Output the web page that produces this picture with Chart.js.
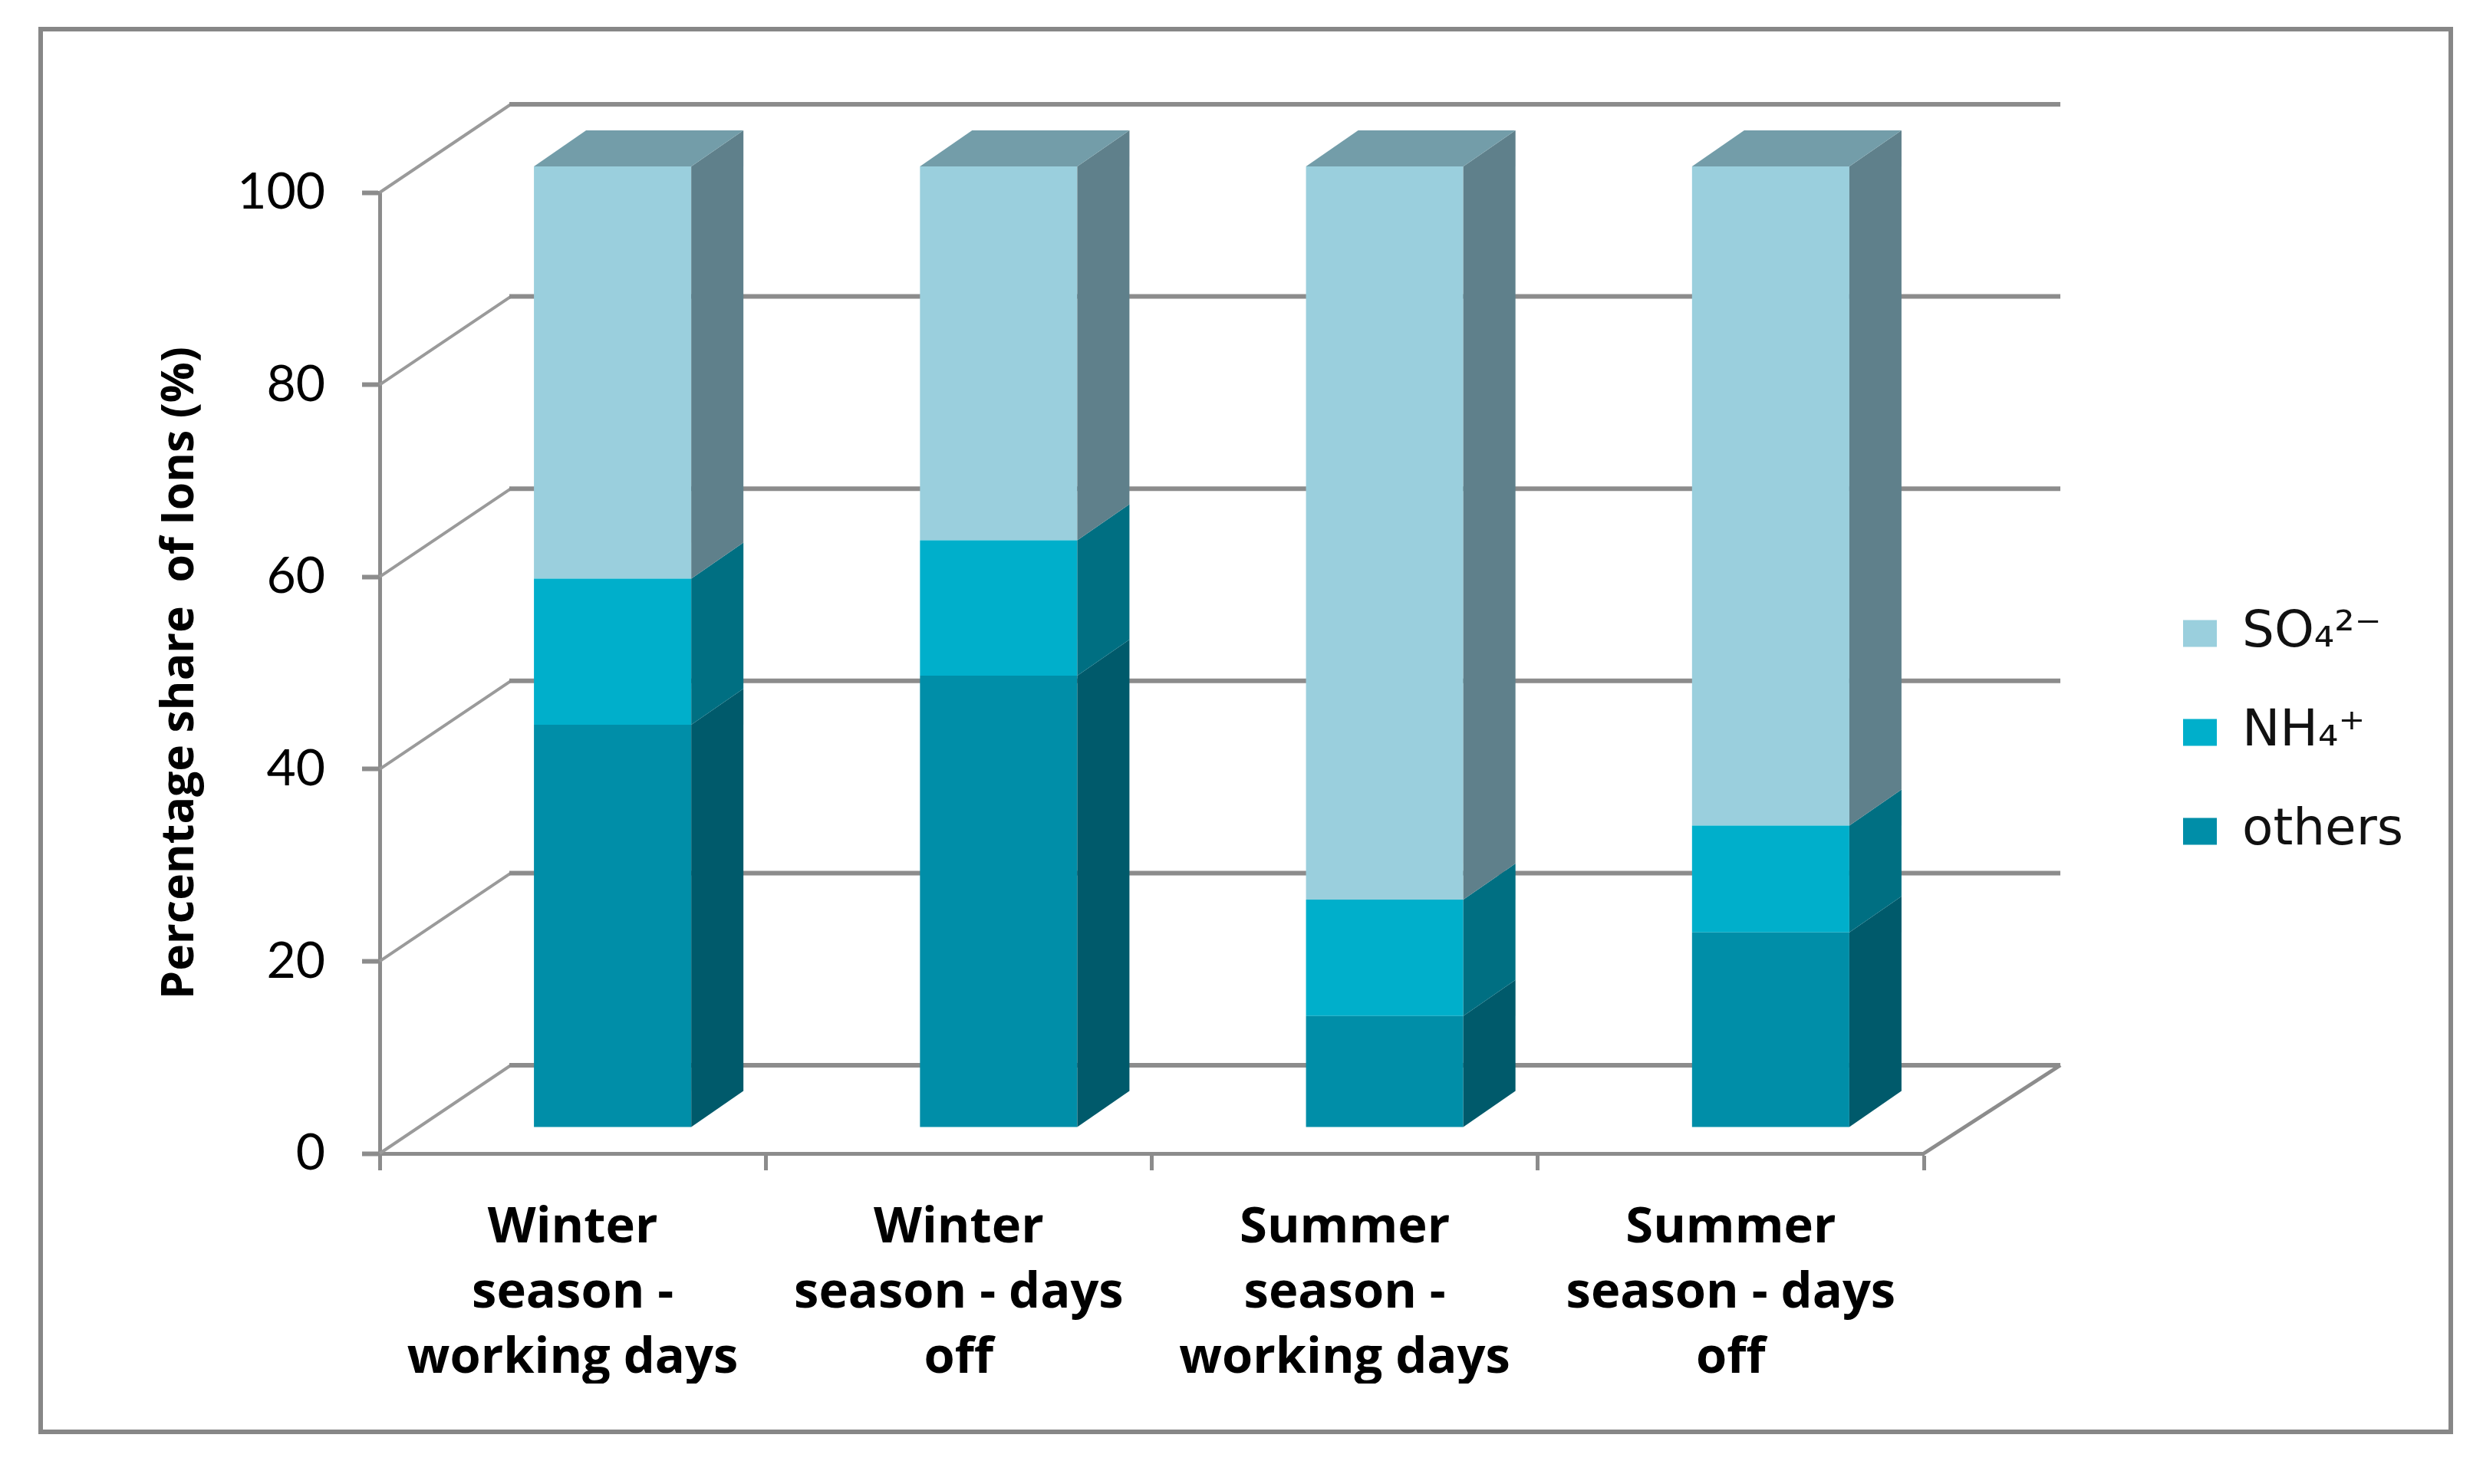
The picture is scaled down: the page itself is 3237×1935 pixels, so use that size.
<!DOCTYPE html>
<html>
<head>
<meta charset="utf-8">
<title>Percentage share of ions</title>
<script src="https://cdn.jsdelivr.net/npm/chart.js@4/dist/chart.umd.min.js"></script>
<style>
  html, body { margin: 0; padding: 0; background: #fff; }
  #frame { position: absolute; left: 50px; top: 35px; width: 3148px; height: 1835px; box-sizing: border-box; border: 6px solid #878787; }
  #chart { position: absolute; left: 0; top: 0; }
</style>
</head>
<body>
<div id="frame"></div>
<canvas id="chart" width="3237" height="1935"></canvas>
<script>
  const categories = [
    ['Winter', 'season -', 'working days'],
    ['Winter', 'season - days', 'off'],
    ['Summer', 'season -', 'working days'],
    ['Summer', 'season - days', 'off']
  ];
  const others = [41.9, 47, 11.6, 20.3];
  const nh4 = [15.2, 14.1, 12.1, 11.1];
  const so4 = [42.9, 38.9, 76.3, 68.6];
  const yTitle = 'Percentage share  of Ions (%)';

  const gridColor = '#8c8c8c';
  const sideColors = ['#005a6b', '#006f82', '#5f808b'];
  const topColor = '#739da9';

  // fake 3D: back wall offset and where the bars sit between front and back
  const wall = { dxLeft: 171, dxRight: 178, dy: -115 };
  const barShift = { dx: 52, dy: -34 };
  const barDepth = { dx: 68, dy: -47 };

  function poly(ctx, pts, color) {
    ctx.fillStyle = color;
    ctx.beginPath();
    pts.forEach((p, i) => i ? ctx.lineTo(p[0], p[1]) : ctx.moveTo(p[0], p[1]));
    ctx.closePath();
    ctx.fill();
  }

  const threeD = {
    id: 'threeD',
    afterLayout(chart) {
      // the legend sits lower and further right than Chart.js would put it
      // (legend draw clips to its box, so right/bottom have to move too)
      chart.legend.left = 2783;
      chart.legend.right = 3237;
      chart.legend.top = 730;
      chart.legend.bottom = 1935;
    },
    beforeDatasetsDraw(chart) {
      const { ctx, chartArea, scales } = chart;
      const backLeft = chartArea.left + wall.dxLeft;
      const backRight = chartArea.right + wall.dxRight;
      ctx.save();
      ctx.lineCap = 'butt';
      scales.y.ticks.forEach(t => {
        const y = scales.y.getPixelForValue(t.value);
        ctx.strokeStyle = '#9a9a9a';
        ctx.lineWidth = 4;
        ctx.beginPath();
        ctx.moveTo(chartArea.left, y);
        ctx.lineTo(backLeft, y + wall.dy);
        ctx.stroke();
        ctx.strokeStyle = gridColor;
        ctx.lineWidth = 6;
        ctx.beginPath();
        ctx.moveTo(backLeft - 2, y + wall.dy);
        ctx.lineTo(backRight, y + wall.dy);
        ctx.stroke();
      });
      // right edge of the floor
      ctx.strokeStyle = gridColor;
      ctx.lineWidth = 5;
      ctx.beginPath();
      ctx.moveTo(chartArea.right, chartArea.bottom);
      ctx.lineTo(backRight, chartArea.bottom + wall.dy);
      ctx.stroke();
      ctx.restore();

      ctx.save();
      ctx.translate(barShift.dx, barShift.dy);
    },
    afterDatasetsDraw(chart) {
      const { ctx } = chart;
      chart.data.datasets.forEach((ds, i) => {
        chart.getDatasetMeta(i).data.forEach(bar => {
          const r = bar.x + bar.width / 2;
          poly(ctx, [
            [r, bar.y], [r + barDepth.dx, bar.y + barDepth.dy],
            [r + barDepth.dx, bar.base + barDepth.dy], [r, bar.base]
          ], sideColors[i]);
          if (i === chart.data.datasets.length - 1) {
            const l = bar.x - bar.width / 2;
            poly(ctx, [
              [l, bar.y], [l + barDepth.dx, bar.y + barDepth.dy],
              [r + barDepth.dx, bar.y + barDepth.dy], [r, bar.y]
            ], topColor);
          }
        });
      });
      ctx.restore();
    }
  };

  new Chart(document.getElementById('chart'), {
    type: 'bar',
    data: {
      labels: categories,
      datasets: [
        { label: 'others', data: others, backgroundColor: '#008ea8', clip: false },
        { label: 'NH₄⁺', data: nh4, backgroundColor: '#00afcb', clip: false },
        { label: 'SO₄²⁻', data: so4, backgroundColor: '#9acfdd', clip: false }
      ]
    },
    plugins: [threeD],
    options: {
      responsive: false,
      animation: false,
      events: [],
      barPercentage: 0.4075,
      categoryPercentage: 1,
      layout: {
        autoPadding: false,
        padding: { left: 196, top: 251, bottom: 131, right: 429 }
      },
      plugins: {
        tooltip: { enabled: false },
        legend: {
          position: 'right',
          align: 'start',
          reverse: true,
          maxWidth: 300,
          labels: {
            boxWidth: 44,
            boxHeight: 35,
            padding: 63,
            color: '#111',
            font: { family: '"DejaVu Sans"', size: 66 }
          }
        }
      },
      scales: {
        x: {
          stacked: true,
          afterFit(scale) { scale.height = 300; },
          border: { color: gridColor, width: 5 },
          grid: { drawOnChartArea: false, tickLength: 22, tickWidth: 5, tickColor: gridColor },
          ticks: {
            color: '#000',
            padding: 33,
            maxRotation: 0,
            autoSkip: false,
            font: { family: '"Open Sans"', size: 65, weight: 'bold', lineHeight: 1.31 }
          }
        },
        y: {
          stacked: true,
          min: 0,
          max: 100,
          afterFit(scale) { scale.width = 299; },
          border: { color: gridColor, width: 5 },
          grid: { drawOnChartArea: false, tickLength: 23, tickWidth: 6, tickColor: gridColor },
          ticks: {
            stepSize: 20,
            color: '#000',
            padding: 48,
            font: { family: 'Lato', size: 66 }
          },
          title: {
            display: true,
            text: yTitle,
            color: '#000',
            font: { family: '"Open Sans"', size: 59, weight: 'bold' }
          }
        }
      }
    }
  });
</script>
</body>
</html>
